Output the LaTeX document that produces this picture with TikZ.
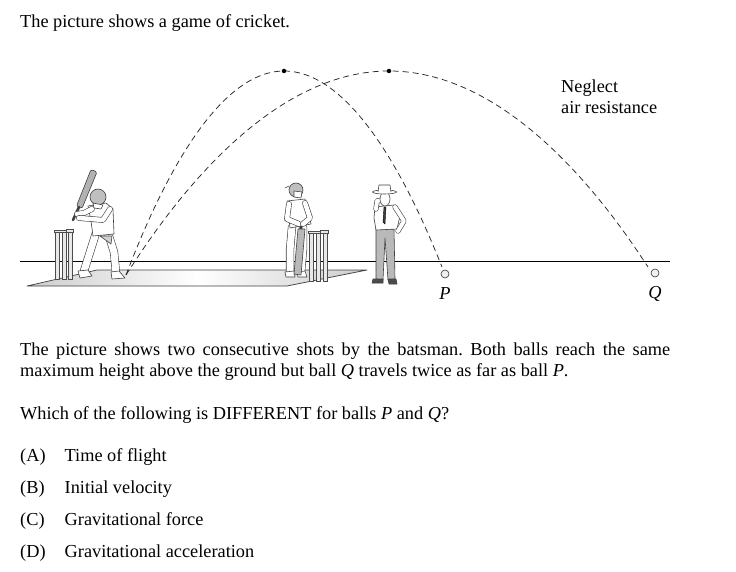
\documentclass[tikz,border=0pt]{standalone}
\usepackage{fontspec}
\setmainfont{Liberation Serif}
\frenchspacing
\begin{document}
\begin{tikzpicture}[x=1pt,y=-1pt,
  txt/.style={anchor=base west,inner sep=0pt,font=\fontsize{18.3}{21}\selectfont},
  lbl/.style={anchor=base,inner sep=0pt,font=\fontsize{18.3}{21}\selectfont\itshape},
  traj/.style={draw=black!85,line width=0.75pt,dash pattern=on 6pt off 4pt},
  fig/.style={draw=black!75,line width=0.6pt,line join=round},
  limb/.style={draw=black!75,line width=0.6pt,double=white,double distance=#1,line cap=round,line join=round},
  limb/.default=6pt,
  stump/.style={draw=black!70,line width=0.5pt,fill=gray!18},
  ball/.style={circle,draw=black!80,line width=0.6pt,fill=gray!12,minimum size=8pt,inner sep=0pt},
  peak/.style={circle,fill=black,minimum size=4.5pt,inner sep=0pt}]
\useasboundingbox (0,0) rectangle (736,572);

% ---- texts ----
\node[txt] (t1) at (20,28) {The picture shows a game of cricket.};
\node[txt] (neg1) at (561,93) {Neglect};
\node[txt] (neg2) at (561,114) {air resistance};
\node[txt] (p1) at (20,355) {\hbox to 650pt{The picture shows two consecutive shots by the batsman. Both balls reach the same}};
\node[txt] (p2) at (20,376.5) {maximum height above the ground but ball \textit{Q} travels twice as far as ball \textit{P}.};
\node[txt] (p3) at (20,419) {Which of the following is DIFFERENT for balls \textit{P} and \textit{Q}?};
\node[txt] (oa) at (20,461.5) {(A)};
\node[txt] (ta) at (64.5,461.5) {Time of flight};
\node[txt] (ob) at (20,493.5) {(B)};
\node[txt] (tb) at (64.5,493.5) {Initial velocity};
\node[txt] (oc) at (20,525.5) {(C)};
\node[txt] (tc) at (64.5,525.5) {Gravitational force};
\node[txt] (od) at (20,557.5) {(D)};
\node[txt] (td) at (64.5,557.5) {Gravitational acceleration};

% ---- ground and pitch ----
\coordinate (gl) at (20,261);
\coordinate (gr) at (670,261);
\draw[line width=0.8pt] (gl) -- (gr);
\shade[left color=gray!40,right color=gray!40,middle color=white]
  (27,286) -- (97,270) -- (367,270) -- (287,286) -- cycle;
\draw[black!75,line width=0.7pt,line join=round] (27,286) -- (97,270) -- (367,270) -- (287,286) -- cycle;

% ---- batsman stumps ----
\foreach \x in {55,62,68}{\draw[stump] (\x,232) rectangle ++(4.5,47);}
\draw[stump] (54.5,230) rectangle (66.5,232.5);
\draw[stump] (66,229.5) rectangle (73,232);

% ---- batsman ----
\draw[limb=7pt] (96,233) -- (90,252) -- (84,271);
\draw[limb=7pt] (108,233) -- (114,252) -- (116,273);
\draw[fig,fill=white] (78,271) -- (88,270) -- (92,276) -- (80,278) -- cycle;
\draw[fig,fill=white] (111,272) -- (119,271) -- (125,278) -- (112,279) -- cycle;
\draw[fig,fill=white] (88,206) -- (106,203) -- (113,209) -- (114,234) -- (93,236) -- (91,221) -- cycle;
\draw[fig,fill=gray!35] (100,236) -- (112,236) -- (111,244) -- cycle;
% bat
\draw[fig,fill=gray!60,rounded corners=1.5pt] (76.5,206) -- (82,208.5) -- (97,172) -- (91,169.5) -- cycle;
\draw[black!75,line width=2.6pt,line cap=round] (79,207) -- (73,220);
% arms
\draw[limb=4.5pt] (92,209) -- (84,213) -- (77,214);
\draw[limb=4.5pt] (110,209) -- (103,220) -- (79,218);
% head
\draw[fig,fill=gray!50] (98,197) circle (8);
\draw[fig,fill=white] (93,203) -- (103,205) -- (101,209) -- (94,208) -- cycle;

% ---- non-striker stumps ----
\foreach \x in {309,316,323}{\draw[stump] (\x,233) rectangle ++(4.5,48);}
\draw[stump] (308,231) rectangle (320.5,233.5);
\draw[stump] (320,230.5) rectangle (328,233);

% ---- non-striker ----
\draw[limb=7pt] (292,227) -- (290,250) -- (290,272);
\draw[limb=7pt] (303,227) -- (303,250) -- (301,272);
\draw[fig,fill=white] (285,272) -- (294,271) -- (295,277) -- (286,277) -- cycle;
\draw[fig,fill=white] (297,272) -- (305,271) -- (307,277) -- (298,277) -- cycle;
\draw[fig,fill=white] (287,201) -- (305,199) -- (311,224) -- (290,228) -- cycle;
% bat
\draw[fig,fill=gray!55] (298,229) -- (305,229) -- (301,275) -- (294,274) -- cycle;
\draw[black!75,line width=2.4pt] (301,229) -- (302,222);
% arms
\draw[limb=4.5pt] (289,204) -- (287,219) -- (299,224);
\draw[limb=4.5pt] (305,203) -- (310,218) -- (303,224);
% head
\draw[fig,fill=gray!50] (296,190) circle (7);
\draw[fig,fill=white] (294,191) -- (302,192) -- (301,198) -- (294,197) -- cycle;
\draw[fig] (289,186) -- (285,188);

% ---- umpire ----
\draw[fig,fill=gray!55] (376,229) -- (394,229) -- (395,279) -- (388,280) -- (385,238) -- (383,280) -- (376,279) -- cycle;
\draw[fig,fill=black!70] (373,279) -- (383,279) -- (383,283) -- (372,283) -- cycle;
\draw[fig,fill=black!70] (388,279) -- (396,279) -- (397,284) -- (389,284) -- cycle;
\draw[fig,fill=white] (375,207) -- (394,205) -- (400,216) -- (397,229) -- (376,230) -- (374,218) -- cycle;
\draw[fill=black!75] (384,207) -- (386,207) -- (385,224) -- (383,222) -- cycle;
\draw[limb=4pt] (395,207) -- (404,221) -- (398,231);
\draw[limb=4pt] (376,209) -- (377,201) -- (382,200);
\draw[fig,fill=white] (385,199) ellipse (5 and 7);
\draw[fig,fill=white] (384.5,192) ellipse (12 and 2);
\draw[fig,fill=white] (378,192) -- (379,185) -- (390,185) -- (391,192);

% ---- trajectories ----
\coordinate (s) at (126,275);
\coordinate (pk1) at (284,71);
\coordinate (pk2) at (389,71);
\coordinate (e1) at (442,267);
\coordinate (e2) at (648,267);
\draw[traj] (s) parabola bend (pk1) (e1);
\draw[traj] (s) parabola bend (pk2) (e2);
\node[peak] (d1) at (pk1) {};
\node[peak] (d2) at (pk2) {};
\node[ball] (bP) at (445,274) {};
\node[ball] (bQ) at (655,273) {};
\node[lbl] (lP) at (445,299) {P};
\node[lbl] (lQ) at (655,298) {Q};
\end{tikzpicture}
\end{document}
